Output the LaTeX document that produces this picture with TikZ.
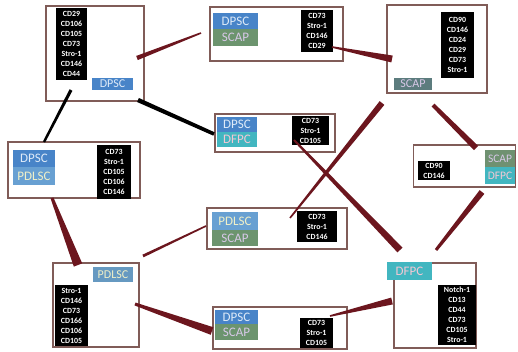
\documentclass[tikz,border=0pt]{standalone}
\usepackage{fontspec}
\setmainfont{Carlito}
\usetikzlibrary{calc}

\definecolor{boxedge}{RGB}{128,92,88}
\definecolor{linkred}{RGB}{108,22,30}
\definecolor{dpscblue}{RGB}{72,132,200}
\definecolor{dpsctext}{RGB}{222,234,248}
\definecolor{scapgreen}{RGB}{108,148,110}
\definecolor{scapgray}{RGB}{92,124,126}
\definecolor{scaptext}{RGB}{216,200,232}
\definecolor{dfpccyan}{RGB}{66,182,192}
\definecolor{dfpctext}{RGB}{244,200,212}
\definecolor{pdlscblue}{RGB}{104,160,210}
\definecolor{pdlsctext}{RGB}{240,240,200}

\tikzset{
  cellbox/.style={draw=boxedge, line width=1.6pt, fill=white, inner sep=0pt},
  marklist/.style={fill=black, text=white, inner sep=0pt, align=center,
                   font=\bfseries\fontsize{7.9}{10}\selectfont},
  tag/.style={inner sep=0pt, font=\fontsize{13}{13}\selectfont},
  dpsctag/.style={tag, fill=dpscblue, text=dpsctext},
  scaptag/.style={tag, fill=scapgreen, text=scaptext},
  dfpctag/.style={tag, fill=dfpccyan, text=dfpctext},
  pdlsctag/.style={tag, fill=pdlscblue, text=pdlsctext},
}

% tapered connector: from, to, half width at start, half width at end, colour
\newcommand{\wedgelink}[5]{%
  \fill[#5] ($(#1)!#3!90:(#2)$) -- ($(#2)!#4!-90:(#1)$)
         -- ($(#2)!#4!90:(#1)$) -- ($(#1)!#3!-90:(#2)$) -- cycle;}

\begin{document}
\begin{tikzpicture}[x=1pt,y=-1pt]
\useasboundingbox (0,0) rectangle (518,352);
\fill[white] (0,0) rectangle (518,352);

% BOXES
\node(dpscBox)[cellbox, minimum width=98, minimum height=95] at (95,53.5) {};
\node(dpscScapTop)[cellbox, minimum width=133, minimum height=54] at (276.5,34) {};
\node(scapBox)[cellbox, minimum width=100, minimum height=88] at (437,49) {};
\node(dpscPdlsc)[cellbox, minimum width=132, minimum height=56] at (74,170) {};
\node(dpscDfpc)[cellbox, minimum width=120, minimum height=38] at (275,133) {};
\node(scapDfpc)[cellbox, minimum width=102, minimum height=42] at (464.5,166) {};
\node(pdlscScap)[cellbox, minimum width=140, minimum height=41] at (277,228.5) {};
\node(pdlscBox)[cellbox, minimum width=86, minimum height=84] at (96,305) {};
\node(dpscScapLow)[cellbox, minimum width=134, minimum height=42] at (280,328) {};
\node(dfpcBox)[cellbox, minimum width=82, minimum height=85] at (435,305.5) {};

% MARKER LISTS
\node(dpscList)[marklist, minimum width=31, minimum height=72] at (71.5,44)
  {CD29\\CD106\\CD105\\CD73\\Stro-1\\CD146\\CD44};
\node(dpscScapTopList)[marklist, minimum width=32, minimum height=42] at (317,31)
  {CD73\\Stro-1\\CD146\\CD29};
\node(scapList)[marklist, minimum width=33, minimum height=66] at (457.5,45)
  {CD90\\CD146\\CD24\\CD29\\CD73\\Stro-1};
\node(dpscPdlscList)[marklist, minimum width=34, minimum height=54] at (114,172)
  {CD73\\Stro-1\\CD105\\CD106\\CD146};
\node(dpscDfpcList)[marklist, minimum width=37, minimum height=29] at (310.5,130.5)
  {CD73\\Stro-1\\CD105};
\node(scapDfpcList)[marklist, minimum width=32, minimum height=19] at (434,170.5)
  {CD90\\CD146};
\node(pdlscScapList)[marklist, minimum width=40, minimum height=31] at (317,226.5)
  {CD73\\Stro-1\\CD146};
\node(pdlscList)[marklist, minimum width=33, minimum height=61] at (71.5,315.5)
  {Stro-1\\CD146\\CD73\\CD166\\CD106\\CD105};
\node(dpscScapLowList)[marklist, minimum width=33, minimum height=30] at (316.5,333)
  {CD73\\Stro-1\\CD105};
\node(dfpcList)[marklist, minimum width=38, minimum height=60] at (457,315)
  {Notch-1\\CD13\\CD44\\CD73\\CD105\\Stro-1};

% CELL TAGS
\node(dpscTag)[dpsctag, minimum width=41, minimum height=12, font=\fontsize{12}{12}\selectfont] at (112.5,84) {DPSC};
\node(dpscScapTopA)[dpsctag, minimum width=45, minimum height=16] at (235.5,21) {DPSC};
\node(dpscScapTopB)[scaptag, minimum width=45, minimum height=17] at (235.5,37.5) {SCAP};
\node(scapTag)[scaptag, fill=scapgray, minimum width=38, minimum height=12, font=\fontsize{12}{12}\selectfont] at (413,84) {SCAP};
\node(dpscPdlscA)[dpsctag, minimum width=42, minimum height=17] at (34,158.5) {DPSC};
\node(dpscPdlscB)[pdlsctag, minimum width=42, minimum height=18] at (34,176) {PDLSC};
\node(dpscDfpcA)[dpsctag, minimum width=40, minimum height=15] at (237,124.5) {DPSC};
\node(dpscDfpcB)[dfpctag, minimum width=40, minimum height=15] at (237,139.5) {DFPC};
\node(scapDfpcA)[scaptag, fill=scapgreen!85!gray, minimum width=30, minimum height=17, font=\fontsize{11.5}{12}\selectfont] at (500,158.5) {SCAP};
\node(scapDfpcB)[dfpctag, minimum width=30, minimum height=17, font=\fontsize{11.5}{12}\selectfont] at (500,175.5) {DFPC};
\node(pdlscScapA)[pdlsctag, minimum width=46, minimum height=18] at (235,221) {PDLSC};
\node(pdlscScapB)[scaptag, minimum width=46, minimum height=16] at (235,238) {SCAP};
\node(pdlscTag)[pdlsctag, fill=pdlscblue!80!scapgray, minimum width=40, minimum height=15, font=\fontsize{12}{12}\selectfont] at (113,274.5) {PDLSC};
\node(dpscScapLowA)[dpsctag, minimum width=43, minimum height=14] at (236.5,317) {DPSC};
\node(dpscScapLowB)[scaptag, minimum width=43, minimum height=16] at (236.5,332) {SCAP};
\node(dfpcTag)[dfpctag, minimum width=45, minimum height=18] at (409.5,271) {DFPC};

% LINK ENDS
\coordinate (dpscOutA) at (137,58);
\coordinate (dpscScapTopIn) at (201,33);
\coordinate (dpscOutB) at (138,100);
\coordinate (dpscDfpcIn) at (214,134);
\coordinate (dpscOutC) at (71,90);
\coordinate (dpscPdlscIn) at (44,142);
\coordinate (dpscScapTopOut) at (332,47);
\coordinate (scapIn) at (392,59);
\coordinate (scapOutA) at (382,103);
\coordinate (pdlscScapIn) at (290,218);
\coordinate (dpscDfpcOut) at (294,140);
\coordinate (dfpcInA) at (400,250);
\coordinate (scapOutB) at (433,105);
\coordinate (scapDfpcIn) at (476,148);
\coordinate (scapDfpcOut) at (482,192);
\coordinate (dfpcInB) at (436,250);
\coordinate (dpscPdlscOut) at (52,198);
\coordinate (pdlscInA) at (78,265);
\coordinate (pdlscScapOut) at (206,226);
\coordinate (pdlscInB) at (143,256);
\coordinate (pdlscOut) at (135,304);
\coordinate (dpscScapLowIn) at (212,331);
\coordinate (dpscScapLowOut) at (330,316);
\coordinate (dfpcInC) at (392,301);

% LINKS
\wedgelink{dpscOutA}{dpscScapTopIn}{2.2pt}{0.8pt}{linkred}
\wedgelink{dpscOutB}{dpscDfpcIn}{2.2pt}{1.8pt}{black}
\wedgelink{dpscOutC}{dpscPdlscIn}{1.6pt}{1.2pt}{black}
\wedgelink{dpscScapTopOut}{scapIn}{0.8pt}{3.5pt}{linkred}
\wedgelink{scapOutA}{pdlscScapIn}{3pt}{0.8pt}{linkred}
\wedgelink{dpscDfpcOut}{dfpcInA}{1pt}{3.5pt}{linkred}
\wedgelink{scapOutB}{scapDfpcIn}{2pt}{3pt}{linkred}
\wedgelink{scapDfpcOut}{dfpcInB}{3pt}{1.5pt}{linkred}
\wedgelink{dpscPdlscOut}{pdlscInA}{1.5pt}{4.5pt}{linkred}
\wedgelink{pdlscScapOut}{pdlscInB}{0.8pt}{1.4pt}{linkred}
\wedgelink{pdlscOut}{dpscScapLowIn}{1.5pt}{4pt}{linkred}
\wedgelink{dpscScapLowOut}{dfpcInC}{0.8pt}{3.5pt}{linkred}

\end{tikzpicture}
\end{document}
